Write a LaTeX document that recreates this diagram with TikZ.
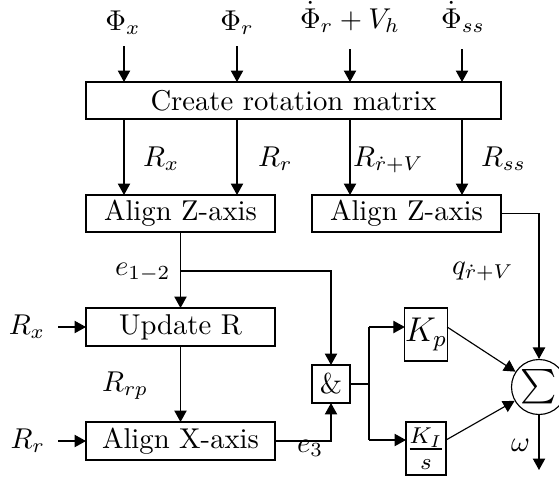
\documentclass[tikz,border=0pt]{standalone}
\usepackage{amsmath}
\usetikzlibrary{arrows.meta,calc}
\begin{document}
\def\U{0.349pt}
\begin{tikzpicture}[x=0.349pt,y=-0.349pt,
  blk/.style={draw, rectangle, inner sep=0pt, outer sep=0pt},
  lbl/.style={inner sep=0pt, outer sep=0pt},
  arr/.style={-{Triangle[length=4pt,width=4.3pt]}}]
\useasboundingbox (0,0) rectangle (559,478);

% blocks
\node[blk, minimum width=415*\U, minimum height=37*\U] (create) at (293.5,100.5) {Create rotation matrix};
\node[blk, minimum width=189*\U, minimum height=37*\U] (alz1) at (180.5,213.5) {Align Z-axis};
\node[blk, minimum width=189*\U, minimum height=37*\U] (alz2) at (406.5,213.5) {Align Z-axis};
\node[blk, minimum width=189*\U, minimum height=38*\U] (updr) at (180.5,327) {Update R};
\node[blk, minimum width=189*\U, minimum height=38*\U] (alx) at (180.5,441) {Align X-axis};
\node[blk, minimum width=38*\U, minimum height=38*\U] (and) at (331,384) {\&};
\node[blk, minimum width=40*\U, minimum height=53*\U, font=\large] (kp) at (426,334.5) {$K_p$};
\node[blk, minimum width=40*\U, minimum height=53*\U, font=\large] (ki) at (426,448.5) {$\frac{K_I}{s}$};
\node[draw, circle, inner sep=0pt, minimum size=55*\U, font=\large] (sig) at (539,387) {$\sum$};

% top inputs
\node[lbl, anchor=base] (phix) at (123,30) {$\Phi_x$};
\node[lbl, anchor=base] (phir) at (237,30) {$\Phi_r$};
\node[lbl, anchor=base] (phird) at (350,28) {$\dot{\Phi}_r + V_h$};
\node[lbl, anchor=base] (phiss) at (463,28) {$\dot{\Phi}_{ss}$};
\coordinate (a1) at (124,46);
\coordinate (a2) at (237,46);
\coordinate (a3) at (350,49);
\coordinate (a4) at (462,49);
\draw[arr] (a1) -- (a1 |- create.north);
\draw[arr] (a2) -- (a2 |- create.north);
\draw[arr] (a3) -- (a3 |- create.north);
\draw[arr] (a4) -- (a4 |- create.north);

% rotation matrices
\draw[arr] (create.south -| a1) -- (a1 |- alz1.north);
\draw[arr] (create.south -| a2) -- (a2 |- alz1.north);
\draw[arr] (create.south -| a3) -- (a3 |- alz2.north);
\draw[arr] (create.south -| a4) -- (a4 |- alz2.north);
\node[lbl, anchor=base west] (lrx) at (143,166) {$R_x$};
\node[lbl, anchor=base west] (lrr) at (258,166) {$R_r$};
\node[lbl, anchor=base west] (lrv) at (353,166) {$R_{\dot r+V}$};
\node[lbl, anchor=base west] (lrss) at (481,166) {$R_{ss}$};

% left chain
\coordinate (b1) at (180.5,271);
\draw[arr] (alz1) -- (updr);
\draw[arr] (b1) -| (and.north);
\node[lbl, anchor=base west] (le12) at (115,275) {$e_{1-2}$};
\draw[arr] (updr) -- (alx);
\node[lbl, anchor=base west] (lrrp) at (102,391) {$R_{rp}$};
\node[lbl, anchor=east, inner sep=4.5pt] (rx2) at (58,327) {$R_x$};
\node[lbl, anchor=east, inner sep=4.5pt] (rr2) at (58,441) {$R_r$};
\draw[arr] (rx2) -- (updr);
\draw[arr] (rr2) -- (alx);
\draw[arr] (alx.east) -| (and.south);
\node[lbl, anchor=base west] (le3) at (297,452) {$e_3$};

% controller
\coordinate (j) at (369,384);
\coordinate (jt) at (369,327);
\coordinate (jb) at (369,440);
\draw (and.east) -- (j);
\draw (jt) -- (jb);
\draw[arr] (jt) -- (jt -| kp.west);
\draw[arr] (jb) -- (jb -| ki.west);
\draw[arr] (kp.east |- jt) -- (sig);
\draw[arr] (ki.east |- jb) -- (sig);

% right branch
\draw[arr] (alz2.east) -| (sig.north);
\node[lbl, anchor=base west] (lq) at (452,274) {$q_{\dot r+V}$};
\coordinate (out) at (539,470);
\draw[arr] (sig.south) -- (out);
\node[lbl, anchor=base west] (lw) at (511,451) {$\omega$};
\end{tikzpicture}
\end{document}
